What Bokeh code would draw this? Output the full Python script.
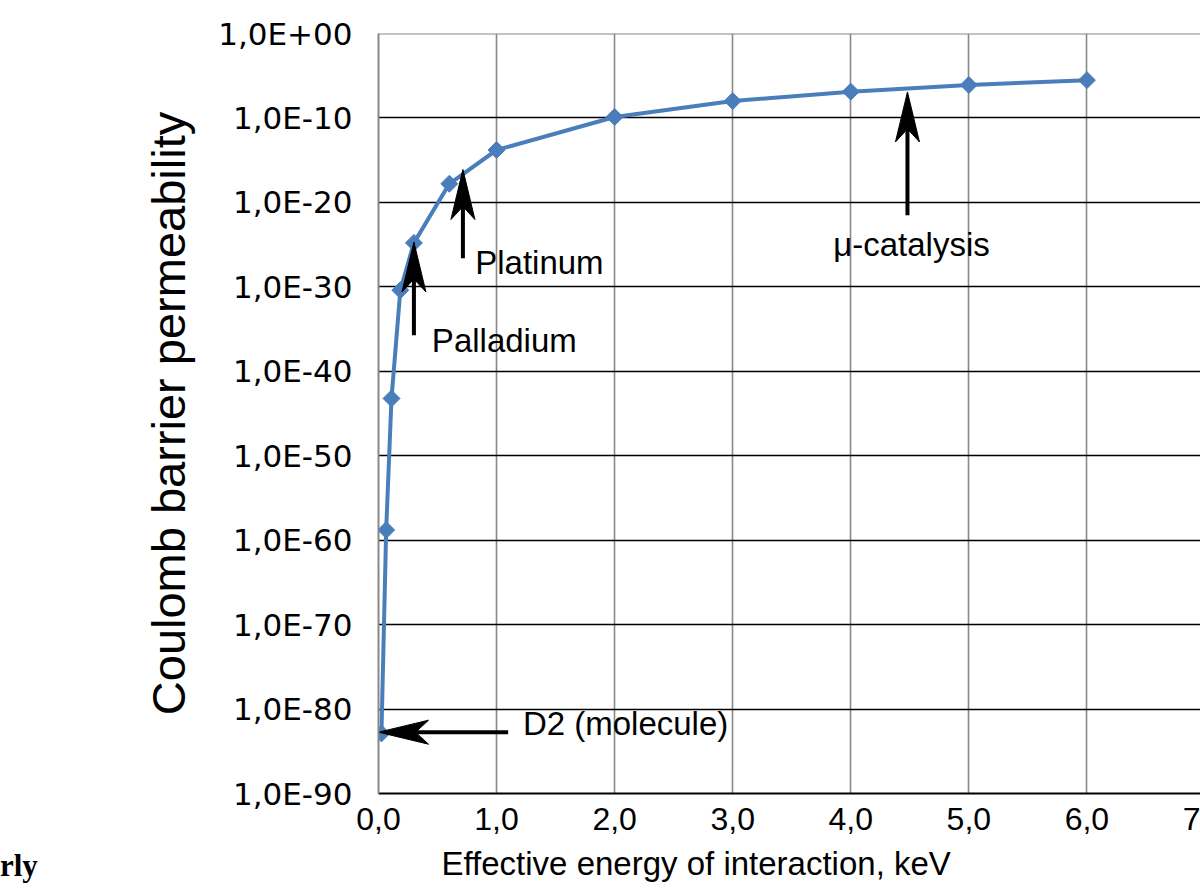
import math
from bokeh.plotting import figure
from bokeh.layouts import column
from bokeh.models import (Range1d, FixedTicker, CustomJSTickFormatter, Label, Span,
                          Title, Div)
from bokeh.embed import file_html
from bokeh.resources import INLINE

# ---------------- data ----------------
energy_kev = [0.025, 0.065, 0.11, 0.185, 0.3, 0.6, 1.0, 2.0, 3.0, 4.0, 5.0, 6.0]
permeability = [1.3e-83, 1.6e-59, 6.0e-44, 4.0e-31, 1.6e-25, 1.6e-18,
                1.6e-14, 1.3e-10, 1.0e-8, 1.3e-7, 8.0e-7, 3.0e-6]
x_ticks = [0, 1, 2, 3, 4, 5, 6, 7]
y_ticks = [1e-90, 1e-80, 1e-70, 1e-60, 1e-50, 1e-40, 1e-30, 1e-20, 1e-10, 1e0]
y_title = "Coulomb barrier permeability"
x_title = "Effective energy of interaction, keV"
page_fragment = "rly"

# annotations: (text, arrow x, arrow tail exponent, arrow tip exponent, text x, text baseline exponent)
notes_up = [
    ("Palladium", 0.30, -35.74, -24.69, 0.452, -36.3),
    ("Platinum", 0.715, -26.62, -16.11, 0.819, -27.1),
    ("\u03bc-catalysis", 4.48, -21.53, -6.92, 3.851, -24.95),
]
note_left = ("D2 (molecule)", -82.74, 1.098, 0.0, 1.223, -81.75)

# ---------------- geometry ----------------
W, H = 1200, 894
LEFT, TOP, RIGHT, BOTTOM = 378, 33, 0, 101
FW = W - LEFT - RIGHT
FH = H - TOP - BOTTOM
PX_PER_KEV = 118.07
X_END = FW / PX_PER_KEV
DECADES = 90
PX_PER_DEC = FH / DECADES

BLUE = "#4a7ebb"
GRAY = "#888888"
FONT = "Liberation Sans"

p = figure(width=W, height=H, output_backend="svg", toolbar_location=None,
           y_axis_type="log",
           x_range=Range1d(0, X_END), y_range=Range1d(1e-90, 1e0),
           min_border_left=LEFT, min_border_top=TOP,
           min_border_right=RIGHT, min_border_bottom=BOTTOM)
p.outline_line_color = None
p.background_fill_color = "white"
p.border_fill_color = "white"

# axes
visible_x = [t for t in x_ticks if t <= X_END]
edge_tick = X_END - 8 / PX_PER_KEV      # last label, cut by the window edge
p.xaxis.ticker = FixedTicker(ticks=visible_x + [edge_tick])
p.yaxis.ticker = FixedTicker(ticks=y_ticks)
p.xaxis.formatter = CustomJSTickFormatter(code="""
if (tick > %f && tick < %f) { return '%d'; }
return tick.toFixed(1).replace('.', ',');
""" % (max(visible_x) + 0.5, max(visible_x) + 1, max(visible_x) + 1))
p.yaxis.formatter = CustomJSTickFormatter(code="""
const e = Math.round(Math.log10(tick));
const s = e < 0 ? '-' : '+';
const a = Math.abs(e);
return '1,0E' + s + (a < 10 ? '0' + a : '' + a);
""")
for ax in (p.xaxis, p.yaxis):
    ax.major_tick_in = 0
    ax.major_tick_out = 0
    ax.minor_tick_in = 0
    ax.minor_tick_out = 0
    ax.major_label_text_color = "black"
p.xaxis.major_label_text_font = FONT
p.xaxis.major_label_text_font_size = "32px"
p.xaxis.major_label_standoff = 14
p.xaxis.axis_line_color = "black"
p.xaxis.axis_line_width = 2
p.yaxis.major_label_text_font = "DejaVu Sans"
p.yaxis.major_label_text_font_size = "31px"
p.yaxis.major_label_standoff = 26
p.yaxis.axis_line_color = GRAY
p.yaxis.axis_line_width = 2
p.yaxis.axis_label = y_title
p.yaxis.axis_label_text_font = FONT
p.yaxis.axis_label_text_font_size = "47px"
p.yaxis.axis_label_text_font_style = "normal"
p.yaxis.axis_label_text_color = "black"
p.yaxis.axis_label_standoff = 20

# x title, below the axis, starting left of centre like the original
p.add_layout(Title(text=x_title, align="left", offset=441 - LEFT, text_font=FONT,
                   text_font_size="33px", text_font_style="normal",
                   text_color="black", standoff=21), "below")

# grids
p.xgrid.ticker = FixedTicker(ticks=x_ticks)
p.ygrid.ticker = FixedTicker(ticks=y_ticks)
p.xgrid.grid_line_color = GRAY
p.xgrid.grid_line_width = 1.6
p.ygrid.grid_line_color = "black"
p.ygrid.grid_line_width = 1.6
p.add_layout(Span(location=1e0, dimension="width", line_color=GRAY,
                  line_width=2, level="underlay"))

# series
p.line(energy_kev, permeability, line_color=BLUE, line_width=4)
p.scatter(energy_kev, permeability, marker="square", angle=math.pi / 4,
          size=12, fill_color=BLUE, line_color=BLUE)


def ex(dpx):
    return dpx / PX_PER_KEV


def ed(dpx):
    return dpx / PX_PER_DEC


HEAD_L, HEAD_N, HEAD_W = 50, 37, 12
NOTE_SIZE = "33px"

for text, ax_x, tail_e, tip_e, tx, ty in notes_up:
    p.segment(x0=[ax_x], y0=[10 ** tail_e], x1=[ax_x], y1=[10 ** (tip_e - ed(HEAD_N))],
              line_color="black", line_width=4)
    hx = [ax_x, ax_x + ex(HEAD_W), ax_x, ax_x - ex(HEAD_W)]
    hy = [10 ** tip_e, 10 ** (tip_e - ed(HEAD_L)), 10 ** (tip_e - ed(HEAD_N)),
          10 ** (tip_e - ed(HEAD_L))]
    p.patch(hx, hy, fill_color="black", line_color="black", line_width=1)
    p.add_layout(Label(x=tx, y=10 ** ty, text=text, text_font=FONT,
                       text_font_size=NOTE_SIZE, text_color="black",
                       text_baseline="alphabetic", text_align="left"))

text, ay_e, tail_x, tip_x, tx, ty = note_left
p.segment(x0=[tail_x], y0=[10 ** ay_e], x1=[tip_x + ex(HEAD_N)], y1=[10 ** ay_e],
          line_color="black", line_width=4)
hx = [tip_x, tip_x + ex(HEAD_L), tip_x + ex(HEAD_N), tip_x + ex(HEAD_L)]
hy = [10 ** ay_e, 10 ** (ay_e + ed(HEAD_W)), 10 ** ay_e, 10 ** (ay_e - ed(HEAD_W))]
p.patch(hx, hy, fill_color="black", line_color="black", line_width=1)
p.add_layout(Label(x=tx, y=10 ** ty, text=text, text_font=FONT,
                   text_font_size=NOTE_SIZE, text_color="black",
                   text_baseline="alphabetic", text_align="left"))

# stray fragment of the surrounding page text, bottom left
frag = Div(text=page_fragment, width=60, height=40, margin=(-48, 0, 0, 0),
           styles={"font-family": "Liberation Serif", "font-size": "31px",
                   "font-weight": "bold", "color": "black", "line-height": "40px"})

layout = column(p, frag, spacing=0)
open("out.html", "w").write(file_html(layout, INLINE))
